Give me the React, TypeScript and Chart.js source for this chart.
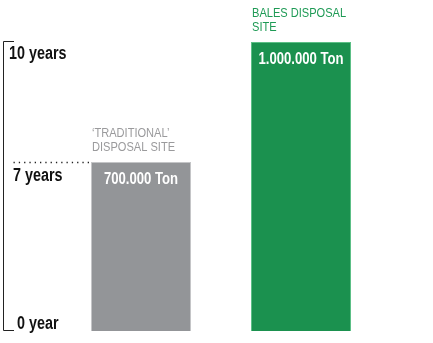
import React, { useEffect, useRef } from "react";
import { Chart, registerables } from "chart.js";

Chart.register(...registerables);

// Data
const categories = ["‘TRADITIONAL’\nDISPOSAL SITE", "BALES DISPOSAL\nSITE"];
const lifetimeYears = [7, 10];
const valueLabels = ["700.000 Ton", "1.000.000 Ton"];
const tickValues = [0, 7, 10];
const tickLabels = ["0 year", "7 years", "10 years"];
const barColors = ["#939598", "#1b914f"];
const labelColors = ["#9a9a9c", "#1e9a55"];

const FONT = "'Liberation Sans', Arial, sans-serif";
const NARROW = 0.82;

function narrowText(ctx: CanvasRenderingContext2D, text: string, x: number, y: number, align: CanvasTextAlign) {
  ctx.save();
  ctx.translate(x, y);
  ctx.scale(NARROW, 1);
  ctx.textAlign = align;
  ctx.textBaseline = "alphabetic";
  ctx.fillText(text, 0, 0);
  ctx.restore();
}

const overlay = {
  id: "overlay",
  afterDatasetsDraw(chart: any) {
    const { ctx } = chart;
    const y = chart.scales.y;
    const meta = chart.getDatasetMeta(0);
    const yBottom = y.getPixelForValue(y.min);
    const yTop = y.getPixelForValue(y.max);
    ctx.save();
    // bracket
    ctx.strokeStyle = "#222";
    ctx.lineWidth = 1;
    ctx.beginPath();
    ctx.moveTo(14, Math.round(yTop) - 0.5);
    ctx.lineTo(3.5, Math.round(yTop) - 0.5);
    ctx.lineTo(3.5, Math.round(yBottom) - 0.5);
    ctx.lineTo(14, Math.round(yBottom) - 0.5);
    ctx.stroke();

    // tick labels
    ctx.fillStyle = "#111";
    ctx.font = `bold 17.5px ${FONT}`;
    tickValues.forEach((v, i) => {
      const val = Math.max(v, y.min);
      const py = y.getPixelForValue(val);
      let tx: number, ty: number;
      if (v <= y.min) { tx = 17; ty = py - 2.5; }
      else if (v === y.max) { tx = 9; ty = py + 17; }
      else { tx = 13; ty = py + 18.5; }
      narrowText(ctx, tickLabels[i], tx, ty, "left");
    });

    // dotted line at the 7-year level
    const firstBar = meta.data[0];
    const dotY = y.getPixelForValue(lifetimeYears[0]) + 0.5;
    ctx.strokeStyle = "#222";
    ctx.lineWidth = 1.3;
    ctx.setLineDash([1.3, 4]);
    ctx.beginPath();
    ctx.moveTo(13.5, dotY);
    ctx.lineTo(firstBar.x - firstBar.width / 2, dotY);
    ctx.stroke();
    ctx.setLineDash([]);

    // category & value labels
    meta.data.forEach((bar: any, i: number) => {
      const left = bar.x - bar.width / 2;
      const lines = categories[i].split("\n");
      ctx.fillStyle = labelColors[i];
      ctx.font = `13.5px ${FONT}`;
      lines.forEach((ln, j) => {
        const by = bar.y - 11 - (lines.length - 1 - j) * 14.5;
        narrowText(ctx, ln, left + 1, by, "left");
      });
      ctx.fillStyle = "#ffffff";
      ctx.font = `bold 16px ${FONT}`;
      narrowText(ctx, valueLabels[i], bar.x, bar.y + 21.5, "center");
    });
    ctx.restore();
  },
};

export default function App() {
  const ref = useRef<HTMLCanvasElement>(null);
  useEffect(() => {
    if (!ref.current) return;
    const chart = new Chart(ref.current, {
      type: "bar",
      data: {
        labels: categories,
        datasets: [
          {
            data: lifetimeYears,
            backgroundColor: barColors,
            borderColor: ["#c4c5c7", "#5cbf86"],
            borderWidth: 1,
            borderSkipped: "bottom",
            categoryPercentage: 1,
            barPercentage: 0.625,
          },
        ],
      },
      options: {
        responsive: false,
        animation: false,
        layout: { padding: { left: 61, right: 52, top: 42, bottom: 12 } },
        plugins: { legend: { display: false }, tooltip: { enabled: false } },
        scales: {
          x: { display: false },
          y: { display: false, min: 2.775, max: 10 },
        },
      },
      plugins: [overlay],
    });
    return () => chart.destroy();
  }, []);
  return (
    <canvas
      ref={ref}
      width={433}
      height={343}
      style={{ position: "fixed", left: 0, top: 0, display: "block" }}
    />
  );
}
